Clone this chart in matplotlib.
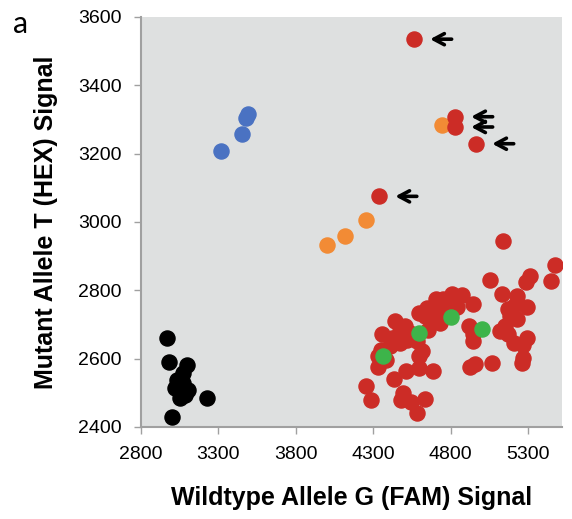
import numpy as np
import matplotlib.pyplot as plt

# genotype clusters
black_x = [2970, 2982, 3095, 3052, 3030, 3020, 3063, 3106, 3052, 3085, 3073, 3225, 2998, 3040, 3070]
black_y = [2661, 2590, 2582, 2538, 2538, 2514, 2514, 2509, 2484, 2494, 2558, 2484, 2430, 2525, 2530]

blue_x = [3490, 3479, 3451, 3315]
blue_y = [3315, 3303, 3257, 3208]

orange_x = [4000, 4119, 4254, 4744]
orange_y = [2933, 2960, 3006, 3283]

red_x = [5138, 5476, 5450, 5315, 5289, 5056, 5131, 5229, 5293, 5174,
         5185, 5229, 5120, 5174, 5293, 5207, 5271, 5271, 5261, 5067,
         4927, 4959, 4916, 4948, 4944, 4944, 4808, 4877, 4707, 4787,
         4841, 4647, 4733, 4636, 4690, 4733, 4442, 4506, 4539, 4657,
         4356, 4420, 4474, 4410, 4614, 4351, 4330, 4383, 4330, 4513,
         4599, 4685, 4437, 4254, 4286, 4491, 4480, 4545, 4638, 4582,
         4474, 4593, 4679, 4754, 4599, 4517, 4582, 5153, 5207]
red_y = [2943, 2874, 2827, 2842, 2823, 2829, 2788, 2783, 2752, 2744,
         2724, 2715, 2680, 2671, 2661, 2646, 2641, 2602, 2587, 2587,
         2577, 2585, 2695, 2671, 2651, 2759, 2788, 2785, 2774, 2764,
         2752, 2749, 2744, 2724, 2715, 2705, 2710, 2695, 2676, 2685,
         2671, 2661, 2646, 2636, 2621, 2626, 2607, 2597, 2577, 2563,
         2573, 2563, 2541, 2519, 2479, 2499, 2479, 2474, 2482, 2440,
         2680, 2734, 2739, 2774, 2607, 2656, 2651, 2695, 2754]

# outliers marked with arrows
marked_x = [4565, 4830, 4830, 4966, 4340]
marked_y = [3535, 3308, 3278, 3229, 3075]

green_x = [4362, 4599, 4802, 5006]
green_y = [2607, 2674, 2723, 2687]

fig = plt.figure(figsize=(5.72, 5.19), dpi=100)
ax = fig.add_axes([0.2465, 0.1773, 0.736, 0.79])
ax.set_facecolor('#dee0e0')

s = 118
ax.scatter(black_x, black_y, s=s, color='black', zorder=3)
ax.scatter(blue_x, blue_y, s=s, color='#4a72c2', zorder=3)
ax.scatter(orange_x, orange_y, s=s, color='#f28b35', zorder=3)
ax.scatter(red_x, red_y, s=s, color='#cc2c26', zorder=3)
ax.scatter(marked_x, marked_y, s=s, color='#cc2c26', zorder=3)
ax.scatter(green_x, green_y, s=s, color='#3db44a', zorder=4)

for mx, my in zip(marked_x, marked_y):
    ax.annotate('', xy=(mx + 85, my), xytext=(mx + 260, my),
                arrowprops=dict(arrowstyle='->,head_length=0.75,head_width=0.4',
                                lw=2.6, color='black'), zorder=5)

ax.set_xlim(2800, 5520)
ax.set_ylim(2400, 3600)
ax.set_xticks(np.arange(2800, 5301, 500))
ax.set_yticks(np.arange(2400, 3601, 200))

for side in ['top', 'right']:
    ax.spines[side].set_visible(False)
for side in ['left', 'bottom']:
    ax.spines[side].set_color('#a0a0a0')
    ax.spines[side].set_linewidth(1.5)
ax.tick_params(direction='out', length=5, width=1, color='#a0a0a0', pad=9)
for lab in ax.get_xticklabels() + ax.get_yticklabels():
    lab.set_family(['Liberation Sans Narrow', 'Liberation Sans'])
    lab.set_fontsize(14)

ax.set_xlabel('Wildtype Allele G (FAM) Signal', fontsize=18, fontweight='bold',
              family='Liberation Sans', labelpad=16)
ax.set_ylabel('Mutant Allele T (HEX) Signal', fontsize=18, fontweight='bold',
              family='Liberation Sans', labelpad=14)
fig.text(0.022, 0.936, 'a', fontsize=22, family='Lato')

fig.savefig('out.png', dpi=100)
